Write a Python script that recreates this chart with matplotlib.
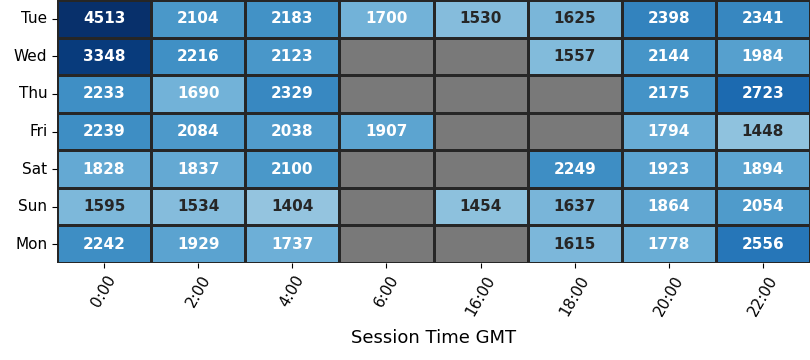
import numpy as np
import pandas as pd
import matplotlib
matplotlib.use("Agg")
import matplotlib.pyplot as plt
import seaborn as sns

days = ["Tue", "Wed", "Thu", "Fri", "Sat", "Sun", "Mon"]
hours = ["0:00", "2:00", "4:00", "6:00", "16:00", "18:00", "20:00", "22:00"]
nan = np.nan

tue = [4513, 2104, 2183, 1700, 1530, 1625, 2398, 2341]
wed = [3348, 2216, 2123, nan, nan, 1557, 2144, 1984]
thu = [2233, 1690, 2329, nan, nan, nan, 2175, 2723]
fri = [2239, 2084, 2038, 1907, nan, nan, 1794, 1448]
sat = [1828, 1837, 2100, nan, nan, 2249, 1923, 1894]
sun = [1595, 1534, 1404, nan, 1454, 1637, 1864, 2054]
mon = [2242, 1929, 1737, nan, nan, 1615, 1778, 2556]

df = pd.DataFrame([tue, wed, thu, fri, sat, sun, mon], index=days, columns=hours)

fig = plt.figure(figsize=(8.1, 3.6), dpi=100)
ax = fig.add_axes([57 / 810, 97 / 360, 753 / 810, 263 / 360])
ax.set_facecolor("#797979")

sns.heatmap(df, ax=ax, cmap="Blues", vmin=0, robust=True, cbar=False,
            annot=True, fmt=".0f", annot_kws={"fontsize": 11, "fontweight": "bold"},
            linewidths=1.0, linecolor="#262626")

ax.set_xlabel("Session Time GMT", fontsize=13, labelpad=8)
ax.set_ylabel("")
ax.tick_params(axis="x", labelsize=11, rotation=60)
ax.tick_params(axis="y", labelsize=11, rotation=0)

fig.savefig("out.png", dpi=100)
